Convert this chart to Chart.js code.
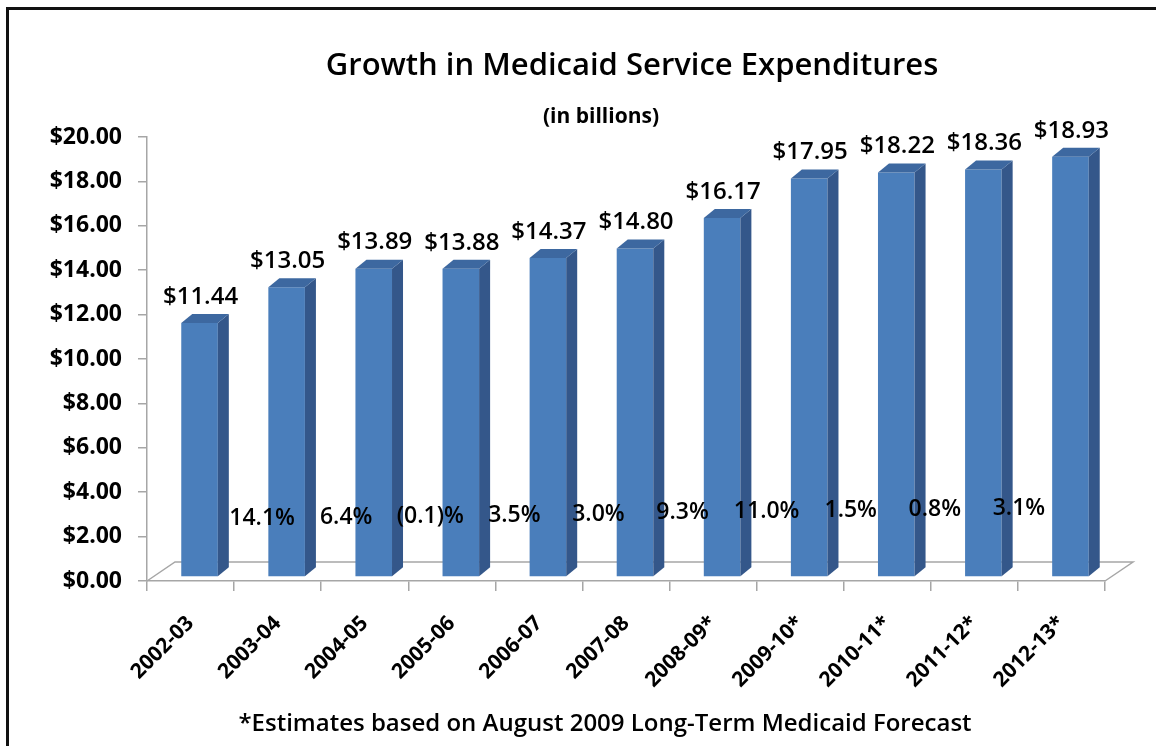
<!DOCTYPE html>
<html>
<head>
<meta charset="utf-8">
<title>Growth in Medicaid Service Expenditures</title>
<script src="https://cdn.jsdelivr.net/npm/chart.js@4.4.0/dist/chart.umd.min.js"></script>
<style>
  html, body { margin: 0; padding: 0; background: #fff; overflow: hidden; }
  #wrap { position: relative; width: 1156px; height: 746px; }
</style>
</head>
<body>
<div id="wrap"><canvas id="medicaidChart" width="1156" height="746"></canvas></div>
<script>
  const categories = ['2002-03', '2003-04', '2004-05', '2005-06', '2006-07', '2007-08',
                      '2008-09*', '2009-10*', '2010-11*', '2011-12*', '2012-13*'];
  const expenditures = [11.44, 13.05, 13.89, 13.88, 14.37, 14.80, 16.17, 17.95, 18.22, 18.36, 18.93];
  const growthLabels = ['14.1%', '6.4%', '(0.1)%', '3.5%', '3.0%', '9.3%', '11.0%', '1.5%', '0.8%', '3.1%'];
  const yMin = 0, yMax = 20, yStep = 2;

  const titleText = 'Growth in Medicaid Service Expenditures';
  const subtitleText = '(in billions)';
  const footnoteText = '*Estimates based on August 2009 Long-Term Medicaid Forecast';

  const FONT = "'Open Sans', 'Noto Sans', sans-serif";
  // fake 3D look
  const DEPTH_X = 11, DEPTH_Y = 9;
  const SHIFT_X = 9, SHIFT_Y = -4;
  const FLOOR_X = 28, FLOOR_Y = 19;

  const money = v => '$' + Number(v).toFixed(2);

  const extras = {
    id: 'extras',
    beforeDraw(chart) {
      const ctx = chart.ctx;
      const a = chart.chartArea;
      const y0 = chart.scales.y.getPixelForValue(0);
      ctx.save();
      ctx.fillStyle = '#fff';
      ctx.fillRect(0, 0, chart.width, chart.height);

      // frame (right and bottom run off the picture)
      ctx.strokeStyle = '#111';
      ctx.lineWidth = 3;
      ctx.beginPath();
      ctx.moveTo(7.5, chart.height);
      ctx.lineTo(7.5, 8.5);
      ctx.lineTo(chart.width, 8.5);
      ctx.stroke();

      // floor
      ctx.strokeStyle = '#a6a6a6';
      ctx.lineWidth = 1.5;
      ctx.beginPath();
      ctx.moveTo(a.left, y0);
      ctx.lineTo(a.left + FLOOR_X, y0 - FLOOR_Y);
      ctx.lineTo(a.right + FLOOR_X, y0 - FLOOR_Y);
      ctx.lineTo(a.right, y0);
      ctx.stroke();

      // titles
      ctx.fillStyle = '#000';
      ctx.textAlign = 'center';
      ctx.textBaseline = 'middle';
      ctx.font = "600 31px " + FONT;
      ctx.fillText(titleText, 632, 66);
      ctx.font = "bold 21px " + FONT;
      ctx.fillText(subtitleText, 601, 117);
      ctx.font = "600 24px " + FONT;
      ctx.fillText(footnoteText, 605, 724);
      ctx.restore();
    },
    beforeDatasetsDraw(chart) {
      chart.ctx.save();
      chart.ctx.translate(SHIFT_X, SHIFT_Y);
    },
    afterDatasetsDraw(chart) {
      const ctx = chart.ctx;
      const meta = chart.getDatasetMeta(0);
      meta.data.forEach(bar => {
        const l = bar.x - bar.width / 2, r = bar.x + bar.width / 2;
        const t = bar.y, b = bar.base;
        ctx.fillStyle = '#34578a';
        ctx.beginPath();
        ctx.moveTo(r, t);
        ctx.lineTo(r + DEPTH_X, t - DEPTH_Y);
        ctx.lineTo(r + DEPTH_X, b - DEPTH_Y);
        ctx.lineTo(r, b);
        ctx.closePath();
        ctx.fill();
        ctx.fillStyle = '#3d68a0';
        ctx.beginPath();
        ctx.moveTo(l, t);
        ctx.lineTo(l + DEPTH_X, t - DEPTH_Y);
        ctx.lineTo(r + DEPTH_X, t - DEPTH_Y);
        ctx.lineTo(r, t);
        ctx.closePath();
        ctx.fill();
      });
      ctx.restore();

      // value labels above bars
      ctx.save();
      ctx.fillStyle = '#000';
      ctx.textAlign = 'center';
      ctx.textBaseline = 'bottom';
      ctx.font = "600 24px " + FONT;
      meta.data.forEach((bar, i) => {
        ctx.fillText(money(expenditures[i]), bar.x + SHIFT_X + 1, bar.y + SHIFT_Y - DEPTH_Y - 5);
      });

      // year-over-year growth between bars
      const xs = chart.scales.x, ys = chart.scales.y;
      const step = xs.getPixelForValue(1) - xs.getPixelForValue(0);
      ctx.textBaseline = 'middle';
      ctx.font = "600 23px " + FONT;
      growthLabels.forEach((txt, k) => {
        const bx = xs.getPixelForValue(k) + step / 2;
        ctx.fillText(txt, bx + 28 - 3 * k, ys.getPixelForValue(2.8) - 1.2 * k);
      });
      ctx.restore();
    }
  };

  const ctx = document.getElementById('medicaidChart').getContext('2d');
  const chart = new Chart(ctx, {
    type: 'bar',
    data: {
      labels: categories,
      datasets: [{
        label: 'Medicaid Service Expenditures',
        data: expenditures,
        backgroundColor: '#4a7ebb',
        borderWidth: 0,
        barPercentage: 0.42,
        categoryPercentage: 1.0
      }]
    },
    options: {
      responsive: false,
      devicePixelRatio: 1,
      animation: false,
      layout: { padding: { top: 137, right: 51, left: 0, bottom: 0 } },
      plugins: {
        legend: { display: false },
        title: { display: false },
        tooltip: { enabled: false }
      },
      scales: {
        x: {
          offset: true,
          border: { display: true, color: '#a6a6a6', width: 1.5 },
          grid: { display: true, drawOnChartArea: false, drawTicks: true, tickLength: 10, color: '#a6a6a6', lineWidth: 1.5, offset: true },
          ticks: {
            color: '#000',
            font: { family: FONT, size: 21, weight: 'bold' },
            minRotation: 45,
            maxRotation: 45,
            padding: 20
          },
          afterFit(scale) { scale.height = 165; }
        },
        y: {
          min: yMin,
          max: yMax,
          border: { display: true, color: '#a6a6a6', width: 1.5 },
          grid: { display: true, drawOnChartArea: false, drawTicks: true, tickLength: 9, color: '#a6a6a6', lineWidth: 1.5 },
          ticks: {
            stepSize: yStep,
            color: '#000',
            padding: 16,
            font: { family: FONT, size: 23, weight: 'bold' },
            callback: v => money(v)
          },
          afterFit(scale) { scale.width = 147; }
        }
      }
    },
    plugins: [extras]
  });
</script>
</body>
</html>
